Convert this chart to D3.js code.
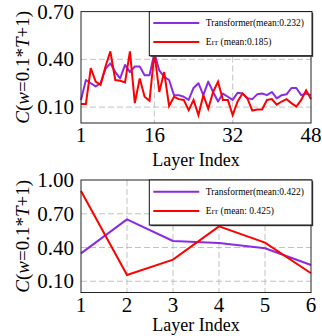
<!DOCTYPE html>
<html>
<head>
<meta charset="utf-8">
<script src="https://cdn.jsdelivr.net/npm/d3@7"></script>
<style>
	html, body { margin: 0; padding: 0; background: #fff; }
	svg { display: block; }
	text { font-family: "Liberation Serif", "DejaVu Serif", serif; fill: #000; }
</style>
</head>
<body>
<svg id="chart"></svg>
<script>
'use strict';

// top panel: 48 layers
var layersTop = d3.range(1, 49);
var transformerTop = [
	0.145, 0.27, 0.25, 0.23, 0.25, 0.34, 0.375, 0.32, 0.28, 0.365,
	0.32, 0.355, 0.355, 0.30, 0.30, 0.44, 0.33, 0.29, 0.27, 0.175,
	0.175, 0.165, 0.145, 0.22, 0.25, 0.175, 0.26, 0.195, 0.135, 0.185,
	0.165, 0.145, 0.19, 0.185, 0.155, 0.15, 0.18, 0.185, 0.175, 0.195,
	0.155, 0.175, 0.18, 0.22, 0.22, 0.175, 0.185, 0.175
];
var eitTop = [
	0.12, 0.12, 0.345, 0.26, 0.24, 0.355, 0.45, 0.27, 0.265, 0.255,
	0.45, 0.125, 0.28, 0.165, 0.14, 0.44, 0.195, 0.32, 0.107, 0.165,
	0.15, 0.145, 0.08, 0.145, 0.05, 0.175, 0.09, 0.195, 0.26, 0.145,
	0.145, 0.05, 0.135, 0.185, 0.155, 0.078, 0.085, 0.085, 0.145, 0.15,
	0.115, 0.135, 0.15, 0.125, 0.103, 0.145, 0.205, 0.15
];
var xTicksTop = [1, 16, 32, 48];
var yTicksTop = [0.10, 0.40, 0.70];
var legendTop = ['Transformer(mean:0.232)', ' (mean:0.185)'];

// bottom panel: 6 layers
var layersBottom = [1, 2, 3, 4, 5, 6];
var transformerBottom = [0.348, 0.65, 0.458, 0.44, 0.393, 0.244];
var eitBottom = [0.902, 0.156, 0.292, 0.588, 0.443, 0.171];
var xTicksBottom = [1, 2, 3, 4, 5, 6];
var yTicksBottom = [0.10, 0.40, 0.70, 1.00];
var legendBottom = ['Transformer(mean:0.422)', ' (mean: 0.425)'];

var WIDTH = 322,
	HEIGHT = 336;

var purple = '#8a2be2',
	red = '#ff0000',
	gridColor = '#b3b3b3';

var svg = d3.select('#chart')
	.attr('width', WIDTH)
	.attr('height', HEIGHT);

svg.append('rect')
	.attr('width', WIDTH)
	.attr('height', HEIGHT)
	.style('fill', '#fff');

drawPanel({
	top: 11.6, bottom: 123, yMax: 0.7,
	layers: layersTop, trans: transformerTop, eit: eitTop,
	xTicks: xTicksTop, yTicks: yTicksTop, legend: legendTop,
	legendBottom: 55.7, titleY: 165.7
});

drawPanel({
	top: 180, bottom: 292.5, yMax: 1.0,
	layers: layersBottom, trans: transformerBottom, eit: eitBottom,
	xTicks: xTicksBottom, yTicks: yTicksBottom, legend: legendBottom,
	legendBottom: 225, titleY: 331
});

function drawPanel(p) {
	var left = 81,
		right = 311;

	var x = d3.scaleLinear()
		.domain(d3.extent(p.layers))
		.range([left, right]);

	var y = d3.scaleLinear()
		.domain([0, p.yMax])
		.range([p.bottom, p.top]);

	var g = svg.append('g');

	// dashed grid
	g.selectAll('.grid-x')
		.data(p.xTicks.filter(function (d) { return x(d) > left + 1 && x(d) < right - 1; }))
		.enter().append('line')
		.attr('x1', function (d) { return x(d); })
		.attr('x2', function (d) { return x(d); })
		.attr('y1', p.top)
		.attr('y2', p.bottom)
		.style('stroke', gridColor)
		.style('stroke-width', 0.8)
		.style('stroke-dasharray', '6,3');

	g.selectAll('.grid-y')
		.data(p.yTicks.filter(function (d) { return y(d) > p.top + 1; }))
		.enter().append('line')
		.attr('x1', left)
		.attr('x2', right)
		.attr('y1', function (d) { return y(d); })
		.attr('y2', function (d) { return y(d); })
		.style('stroke', gridColor)
		.style('stroke-width', 0.8)
		.style('stroke-dasharray', '6,3');

	var line = d3.line()
		.x(function (d, i) { return x(p.layers[i]); })
		.y(function (d) { return y(d); });

	g.append('path')
		.datum(p.trans)
		.attr('d', line)
		.style('fill', 'none')
		.style('stroke', purple)
		.style('stroke-width', 2)
		.style('stroke-linejoin', 'round');

	g.append('path')
		.datum(p.eit)
		.attr('d', line)
		.style('fill', 'none')
		.style('stroke', red)
		.style('stroke-width', 2)
		.style('stroke-linejoin', 'miter');

	// frame
	g.append('rect')
		.attr('x', left)
		.attr('y', p.top)
		.attr('width', right - left)
		.attr('height', p.bottom - p.top)
		.style('fill', 'none')
		.style('stroke', '#222')
		.style('stroke-width', 1);

	// tick labels
	g.selectAll('.xtick')
		.data(p.xTicks)
		.enter().append('text')
		.attr('x', function (d) { return x(d); })
		.attr('y', p.bottom + 19)
		.style('text-anchor', 'middle')
		.style('font-size', '21px')
		.text(function (d) { return d; });

	g.selectAll('.ytick')
		.data(p.yTicks)
		.enter().append('text')
		.attr('x', 74)
		.attr('y', function (d) { return y(d) + 7; })
		.style('text-anchor', 'end')
		.style('font-size', '21px')
		.text(function (d) { return d3.format('.2f')(d); });

	// axis titles
	g.append('text')
		.attr('x', (left + right) / 2)
		.attr('y', p.titleY)
		.style('text-anchor', 'middle')
		.style('font-size', '18px')
		.text('Layer Index');

	var yl = g.append('text')
		.attr('transform', 'translate(29,' + ((p.top + p.bottom) / 2) + ') rotate(-90)')
		.style('text-anchor', 'middle')
		.style('font-size', '19px');
	yl.append('tspan').style('font-style', 'italic').text('C');
	yl.append('tspan').text('(');
	yl.append('tspan').style('font-style', 'italic').text('w');
	yl.append('tspan').text('=0.1*');
	yl.append('tspan').style('font-style', 'italic').text('T');
	yl.append('tspan').text('+1)');

	// legend
	var lx = 149.3,
		lw = right + 1 - lx,
		ly = p.top,
		lh = p.legendBottom - p.top;

	g.append('rect')
		.attr('x', lx + 1.2)
		.attr('y', ly + 1.2)
		.attr('width', lw)
		.attr('height', lh)
		.style('fill', '#444');

	g.append('rect')
		.attr('x', lx)
		.attr('y', ly)
		.attr('width', lw)
		.attr('height', lh)
		.style('fill', '#fff')
		.style('stroke', '#111')
		.style('stroke-width', 1);

	var rows = [
		{ color: purple, label: p.legend[0], dy: lh * 0.26 },
		{ color: red, label: p.legend[1], dy: lh * 0.69 }
	];

	rows.forEach(function (r, i) {
		g.append('line')
			.attr('x1', lx + 4)
			.attr('x2', lx + 50)
			.attr('y1', ly + r.dy)
			.attr('y2', ly + r.dy)
			.style('stroke', r.color)
			.style('stroke-width', 2);

		var t = g.append('text')
			.attr('x', lx + 56.5)
			.attr('y', ly + r.dy + 3.3)
			.style('font-size', '9.5px');

		if (i === 0) {
			t.text(r.label);
		} else {
			t.append('tspan').text('E');
			t.append('tspan').style('font-size', '7px').text('IT');
			t.append('tspan').text(r.label);
		}
	});
}
</script>
</body>
</html>
